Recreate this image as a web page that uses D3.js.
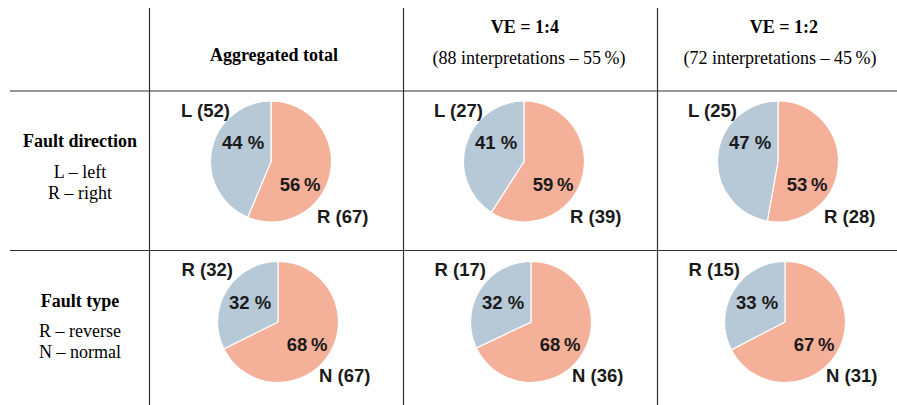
<!DOCTYPE html>
<html>
<head>
<meta charset="utf-8">
<script src="https://cdn.jsdelivr.net/npm/d3@7"></script>
<style>
  html, body { margin: 0; padding: 0; background: #fff; }
  svg { display: block; }
</style>
</head>
<body>
<svg id="chart" width="897" height="405"></svg>
<script>
// ---- data ----
const columns = ["Aggregated total", "VE = 1:4", "VE = 1:2"];
const columnSubtitles = ["", "(88 interpretations \u2013 55\u2009%)", "(72 interpretations \u2013 45\u2009%)"];
const rowTitles = ["Fault direction", "Fault type"];
const rowKeys = [["L \u2013 left", "R \u2013 right"], ["R \u2013 reverse", "N \u2013 normal"]];
const blueLetters = ["L", "R"];
const orangeLetters = ["R", "N"];
const blueCounts = [[52, 27, 25], [32, 17, 15]];
const orangeCounts = [[67, 39, 28], [67, 36, 31]];
const bluePct = [[44, 41, 47], [32, 32, 33]];
const orangePct = [[56, 59, 53], [68, 68, 67]];

// ---- layout ----
const W = 897, H = 405;
const svg = d3.select("#chart");
const colEdges = [149.5, 403.5, 657.5];
const rowEdges = [91, 250.5];
const pieCenters = {
  x: [[271, 524, 778], [278, 531, 785]],
  y: [161.5, 322]
};
const R = 60.5;
const colorOrange = "#F5B09A";
const colorBlue = "#B7C9D6";
const serif = "'Liberation Serif', 'Times New Roman', serif";
const sans = "'Liberation Sans', Arial, sans-serif";
const serifSize = 18;

// grid lines
const lineColor = "#303030";
colEdges.forEach(x => {
  svg.append("line").attr("x1", x).attr("x2", x).attr("y1", 8).attr("y2", H)
    .attr("stroke", lineColor).attr("stroke-width", 1.2);
});
rowEdges.forEach(y => {
  svg.append("line").attr("x1", 10).attr("x2", W).attr("y1", y).attr("y2", y)
    .attr("stroke", lineColor).attr("stroke-width", 1.2);
});

// column headers
const headerX = [274, 525, 784];
const subX = [274, 529, 780];
columns.forEach((c, i) => {
  const hasSub = columnSubtitles[i] !== "";
  svg.append("text")
    .attr("x", headerX[i]).attr("y", hasSub ? 33 : 60.5)
    .attr("text-anchor", "middle")
    .attr("font-family", serif).attr("font-weight", "bold").attr("font-size", serifSize)
    .attr("fill", "#000").text(c);
  if (hasSub) {
    svg.append("text")
      .attr("x", subX[i]).attr("y", 64)
      .attr("text-anchor", "middle")
      .attr("font-family", serif).attr("font-size", serifSize)
      .attr("fill", "#000").text(columnSubtitles[i]);
  }
});

// row headers
const rowTitleY = [147, 306.5];
rowTitles.forEach((t, r) => {
  svg.append("text")
    .attr("x", 80).attr("y", rowTitleY[r])
    .attr("text-anchor", "middle")
    .attr("font-family", serif).attr("font-weight", "bold").attr("font-size", serifSize)
    .attr("fill", "#000").text(t);
  rowKeys[r].forEach((k, j) => {
    svg.append("text")
      .attr("x", 80).attr("y", rowTitleY[r] + 30.5 + j * 21)
      .attr("text-anchor", "middle")
      .attr("font-family", serif).attr("font-size", serifSize)
      .attr("fill", "#000").text(k);
  });
});

// pies
const pie = d3.pie().sort(null).value(d => d.value);
const arc = d3.arc().innerRadius(0).outerRadius(R);

rowTitles.forEach((_, r) => {
  columns.forEach((_, c) => {
    const cx = pieCenters.x[r][c], cy = pieCenters.y[r];
    const data = [
      { key: "orange", value: orangeCounts[r][c], color: colorOrange },
      { key: "blue", value: blueCounts[r][c], color: colorBlue }
    ];
    const g = svg.append("g").attr("transform", `translate(${cx},${cy})`);
    g.selectAll("path").data(pie(data)).join("path")
      .attr("d", arc)
      .attr("fill", d => d.data.color)
      .attr("stroke", "#fff").attr("stroke-width", 1.2);

    const lab = (x, y, anchor, txt) => g.append("text")
      .attr("x", x).attr("y", y).attr("text-anchor", anchor)
      .attr("font-family", sans).attr("font-weight", "bold").attr("font-size", 18.5)
      .attr("fill", "#1a1a1a").text(txt);

    lab(-28, r === 0 ? -12.5 : -13.5, "middle", bluePct[r][c] + " %");
    lab(29, r === 0 ? 29.5 : 28.5, "middle", orangePct[r][c] + "\u2009%");
    lab(r === 0 ? -41 : -45, r === 0 ? -45 : -46.5, "end", `${blueLetters[r]} (${blueCounts[r][c]})`);
    lab(r === 0 ? 46 : 41, r === 0 ? 61 : 60, "start", `${orangeLetters[r]} (${orangeCounts[r][c]})`);
  });
});
</script>
</body>
</html>
